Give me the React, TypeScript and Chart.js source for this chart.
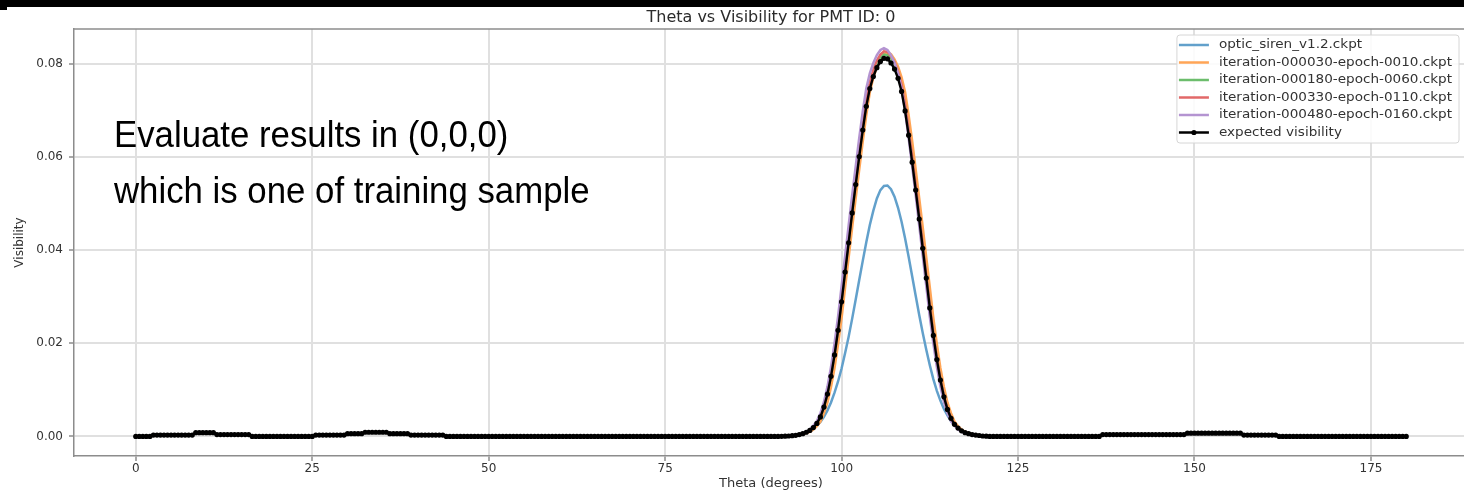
import React, { useEffect, useRef } from "react";
import { Chart, registerables } from "chart.js";

Chart.register(...registerables);

// ---------------- data ----------------
const CHART_TITLE = "Theta vs Visibility for PMT ID: 0";
const X_TITLE = "Theta (degrees)";
const Y_TITLE = "Visibility";
const NOTE_LINES = ["Evaluate results in (0,0,0)", "which is one of training sample"];

const X_TICKS = [0, 25, 50, 75, 100, 125, 150, 175];
const Y_TICKS = [0, 0.02, 0.04, 0.06, 0.08];

const THETA = [
  0, 0.5, 1, 1.5, 2, 2.5, 3, 3.5, 4, 4.5, 5, 5.5, 6, 6.5, 7, 7.5, 8, 8.5, 9, 9.5,
  10, 10.5, 11, 11.5, 12, 12.5, 13, 13.5, 14, 14.5, 15, 15.5, 16, 16.5, 17, 17.5, 18, 18.5, 19, 19.5,
  20, 20.5, 21, 21.5, 22, 22.5, 23, 23.5, 24, 24.5, 25, 25.5, 26, 26.5, 27, 27.5, 28, 28.5, 29, 29.5,
  30, 30.5, 31, 31.5, 32, 32.5, 33, 33.5, 34, 34.5, 35, 35.5, 36, 36.5, 37, 37.5, 38, 38.5, 39, 39.5,
  40, 40.5, 41, 41.5, 42, 42.5, 43, 43.5, 44, 44.5, 45, 45.5, 46, 46.5, 47, 47.5, 48, 48.5, 49, 49.5,
  50, 50.5, 51, 51.5, 52, 52.5, 53, 53.5, 54, 54.5, 55, 55.5, 56, 56.5, 57, 57.5, 58, 58.5, 59, 59.5,
  60, 60.5, 61, 61.5, 62, 62.5, 63, 63.5, 64, 64.5, 65, 65.5, 66, 66.5, 67, 67.5, 68, 68.5, 69, 69.5,
  70, 70.5, 71, 71.5, 72, 72.5, 73, 73.5, 74, 74.5, 75, 75.5, 76, 76.5, 77, 77.5, 78, 78.5, 79, 79.5,
  80, 80.5, 81, 81.5, 82, 82.5, 83, 83.5, 84, 84.5, 85, 85.5, 86, 86.5, 87, 87.5, 88, 88.5, 89, 89.5,
  90, 90.5, 91, 91.5, 92, 92.5, 93, 93.5, 94, 94.5, 95, 95.5, 96, 96.5, 97, 97.5, 98, 98.5, 99, 99.5,
  100, 100.5, 101, 101.5, 102, 102.5, 103, 103.5, 104, 104.5, 105, 105.5, 106, 106.5, 107, 107.5, 108, 108.5, 109, 109.5,
  110, 110.5, 111, 111.5, 112, 112.5, 113, 113.5, 114, 114.5, 115, 115.5, 116, 116.5, 117, 117.5, 118, 118.5, 119, 119.5,
  120, 120.5, 121, 121.5, 122, 122.5, 123, 123.5, 124, 124.5, 125, 125.5, 126, 126.5, 127, 127.5, 128, 128.5, 129, 129.5,
  130, 130.5, 131, 131.5, 132, 132.5, 133, 133.5, 134, 134.5, 135, 135.5, 136, 136.5, 137, 137.5, 138, 138.5, 139, 139.5,
  140, 140.5, 141, 141.5, 142, 142.5, 143, 143.5, 144, 144.5, 145, 145.5, 146, 146.5, 147, 147.5, 148, 148.5, 149, 149.5,
  150, 150.5, 151, 151.5, 152, 152.5, 153, 153.5, 154, 154.5, 155, 155.5, 156, 156.5, 157, 157.5, 158, 158.5, 159, 159.5,
  160, 160.5, 161, 161.5, 162, 162.5, 163, 163.5, 164, 164.5, 165, 165.5, 166, 166.5, 167, 167.5, 168, 168.5, 169, 169.5,
  170, 170.5, 171, 171.5, 172, 172.5, 173, 173.5, 174, 174.5, 175, 175.5, 176, 176.5, 177, 177.5, 178, 178.5, 179, 179.5,
  180,
];

// theta 0 .. 89.5 (flat part, shared by every curve)
const FLAT_LEFT = [
  0, 0, 0, 0, 0, 0.0003, 0.0003, 0.0003, 0.0003, 0.0003, 0.0003, 0.0003, 0.0003, 0.0003, 0.0003, 0.0003, 0.0003, 0.0008, 0.0008, 0.0008,
  0.0008, 0.0008, 0.0008, 0.0004, 0.0004, 0.0004, 0.0004, 0.0004, 0.0004, 0.0004, 0.0004, 0.0004, 0.0004, 0, 0, 0, 0, 0, 0, 0,
  0, 0, 0, 0, 0, 0, 0, 0, 0, 0, 0, 0.0003, 0.0003, 0.0003, 0.0003, 0.0003, 0.0003, 0.0003, 0.0003, 0.0003,
  0.0006, 0.0006, 0.0006, 0.0006, 0.0006, 0.0009, 0.0009, 0.0009, 0.0009, 0.0009, 0.0009, 0.0009, 0.0006, 0.0006, 0.0006, 0.0006, 0.0006, 0.0006, 0.0003, 0.0003,
  0.0003, 0.0003, 0.0003, 0.0003, 0.0003, 0.0003, 0.0003, 0.0003, 0, 0, 0, 0, 0, 0, 0, 0, 0, 0, 0, 0,
  0, 0, 0, 0, 0, 0, 0, 0, 0, 0, 0, 0, 0, 0, 0, 0, 0, 0, 0, 0,
  0, 0, 0, 0, 0, 0, 0, 0, 0, 0, 0, 0, 0, 0, 0, 0, 0, 0, 0, 0,
  0, 0, 0, 0, 0, 0, 0, 0, 0, 0, 0, 0, 0, 0, 0, 0, 0, 0, 0, 0,
  0, 0, 0, 0, 0, 0, 0, 0, 0, 0, 0, 0, 0, 0, 0, 0, 0, 0, 0, 0,
];

// theta 122 .. 180 (flat part, shared by every curve)
const FLAT_RIGHT = [
  0, 0, 0, 0, 0, 0, 0, 0, 0, 0, 0, 0, 0, 0, 0, 0,
  0, 0, 0, 0, 0, 0, 0, 0, 0, 0, 0, 0, 0, 0, 0.0004, 0.0004, 0.0004, 0.0004, 0.0004, 0.0004,
  0.0004, 0.0004, 0.0004, 0.0004, 0.0004, 0.0004, 0.0004, 0.0004, 0.0004, 0.0004, 0.0004, 0.0004, 0.0004, 0.0004, 0.0004, 0.0004, 0.0004, 0.0004, 0.0007, 0.0007,
  0.0007, 0.0007, 0.0007, 0.0007, 0.0007, 0.0007, 0.0007, 0.0007, 0.0007, 0.0007, 0.0007, 0.0007, 0.0007, 0.0007, 0.0003, 0.0003, 0.0003, 0.0003, 0.0003, 0.0003,
  0.0003, 0.0003, 0.0003, 0.0003, 0, 0, 0, 0, 0, 0, 0, 0, 0, 0, 0, 0, 0, 0, 0, 0,
  0, 0, 0, 0, 0, 0, 0, 0, 0, 0, 0, 0, 0, 0, 0, 0, 0, 0, 0, 0,
  0,
];

// theta 90 .. 121.5 (the peak), one array per curve
const PEAK_OPTIC_SIREN = [
  0, 0, 0, 0, 0.0001, 0.0001, 0.0002, 0.0002, 0.0004, 0.0006,
  0.0008, 0.0012, 0.0017, 0.0023, 0.0031, 0.0042, 0.0056, 0.0073, 0.0094, 0.0118,
  0.0146, 0.0179, 0.0214, 0.0253, 0.0294, 0.0336, 0.0377, 0.0417, 0.0454, 0.0485,
  0.0511, 0.0529, 0.0538, 0.0539, 0.0531, 0.0515, 0.0491, 0.0461, 0.0425, 0.0386,
  0.0344, 0.0302, 0.0261, 0.0222, 0.0186, 0.0153, 0.0123, 0.0098, 0.0077, 0.0059,
  0.0045, 0.0033, 0.0024, 0.0018, 0.0013, 0.0009, 0.0006, 0.0004, 0.0003, 0.0002,
  0.0001, 0.0001, 0, 0,
];
const PEAK_EPOCH_0010 = [
  0, 0, 0, 0, 0, 0.00005, 0.0001, 0.0002, 0.0003, 0.0005,
  0.0007, 0.001, 0.0015, 0.0022, 0.0032, 0.005, 0.0073, 0.0106, 0.0147, 0.0198,
  0.0254, 0.032, 0.0384, 0.0449, 0.0512, 0.0573, 0.0634, 0.069, 0.0739, 0.0771,
  0.0794, 0.081, 0.0821, 0.0825, 0.0821, 0.081, 0.0794, 0.0771, 0.0739, 0.069,
  0.0634, 0.0573, 0.0512, 0.0449, 0.0384, 0.032, 0.0254, 0.0198, 0.0147, 0.0106,
  0.0073, 0.005, 0.0032, 0.0022, 0.0015, 0.001, 0.0007, 0.0005, 0.0003, 0.0002,
  0.0001, 0.00005, 0, 0,
];
const PEAK_EPOCH_0060 = [
  0, 0, 0, 0.00003, 0.00005, 0.0001, 0.00016, 0.00025, 0.0004, 0.0006,
  0.0009, 0.0013, 0.0019, 0.0028, 0.0042, 0.0064, 0.0092, 0.013, 0.0177, 0.023,
  0.0292, 0.0356, 0.042, 0.0485, 0.0546, 0.0607, 0.0664, 0.0716, 0.0754, 0.0781,
  0.08, 0.0813, 0.082, 0.0819, 0.081, 0.0797, 0.0777, 0.0748, 0.0706, 0.0653,
  0.0595, 0.0534, 0.0472, 0.0408, 0.0343, 0.0279, 0.0219, 0.0167, 0.0122, 0.0086,
  0.0059, 0.0039, 0.0026, 0.0018, 0.0012, 0.0008, 0.0006, 0.0004, 0.0003, 0.0002,
  0.0001, 0.00005, 0, 0,
];
const PEAK_EPOCH_0110 = [
  0, 0, 0, 0.00003, 0.00005, 0.0001, 0.00016, 0.00025, 0.0004, 0.0006,
  0.0009, 0.0013, 0.0019, 0.0029, 0.0043, 0.0064, 0.0093, 0.0131, 0.0178, 0.0232,
  0.0294, 0.036, 0.0424, 0.0489, 0.0551, 0.0612, 0.067, 0.0722, 0.0761, 0.0787,
  0.0807, 0.082, 0.0827, 0.0826, 0.0817, 0.0804, 0.0783, 0.0755, 0.0712, 0.0659,
  0.06, 0.0539, 0.0476, 0.0411, 0.0346, 0.0281, 0.0221, 0.0168, 0.0123, 0.0087,
  0.0059, 0.004, 0.0026, 0.0018, 0.0012, 0.0008, 0.0006, 0.0004, 0.0003, 0.0002,
  0.0001, 0.00005, 0, 0,
];
const PEAK_EPOCH_0160 = [
  0, 0, 0, 0, 0.00005, 0.0001, 0.0002, 0.0003, 0.0005, 0.0007,
  0.001, 0.0015, 0.0023, 0.0033, 0.005, 0.0074, 0.0107, 0.0149, 0.02, 0.0257,
  0.0323, 0.0388, 0.0453, 0.0518, 0.058, 0.0641, 0.0698, 0.0747, 0.078, 0.0802,
  0.0819, 0.083, 0.0834, 0.083, 0.0819, 0.0802, 0.078, 0.0747, 0.0698, 0.0641,
  0.058, 0.0518, 0.0453, 0.0388, 0.0323, 0.0257, 0.02, 0.0149, 0.0107, 0.0074,
  0.005, 0.0033, 0.0023, 0.0015, 0.001, 0.0007, 0.0005, 0.0003, 0.0002, 0.0001,
  0.00005, 0, 0, 0,
];
const PEAK_EXPECTED = [
  0, 0, 0, 0.00003, 0.00005, 0.0001, 0.00016, 0.00025, 0.0004, 0.0006,
  0.0009, 0.0013, 0.0019, 0.0028, 0.0042, 0.0063, 0.0091, 0.0129, 0.0175, 0.0228,
  0.0289, 0.0353, 0.0416, 0.048, 0.0541, 0.0601, 0.0658, 0.0709, 0.0747, 0.0773,
  0.0792, 0.0805, 0.0812, 0.0811, 0.0802, 0.0789, 0.0769, 0.0741, 0.0699, 0.0647,
  0.0589, 0.0529, 0.0467, 0.0404, 0.034, 0.0276, 0.0217, 0.0165, 0.0121, 0.0085,
  0.0058, 0.0039, 0.0026, 0.0018, 0.0012, 0.0008, 0.0006, 0.0004, 0.0003, 0.0002,
  0.0001, 0.00005, 0, 0,
];

const SERIES_LABELS = [
  "optic_siren_v1.2.ckpt",
  "iteration-000030-epoch-0010.ckpt",
  "iteration-000180-epoch-0060.ckpt",
  "iteration-000330-epoch-0110.ckpt",
  "iteration-000480-epoch-0160.ckpt",
  "expected visibility",
];
const SERIES_PEAKS = [
  PEAK_OPTIC_SIREN,
  PEAK_EPOCH_0010,
  PEAK_EPOCH_0060,
  PEAK_EPOCH_0110,
  PEAK_EPOCH_0160,
  PEAK_EXPECTED,
];
const SERIES_COLORS = ["#62a0cb", "#ffa556", "#6cbd6c", "#e26868", "#b494d1", "#000000"];

// ---------------- styling ----------------
const CANVAS_W = 1542;
const CANVAS_H = 492;
const AXIS_COLOR = "#8c8c8c";
const GRID_COLOR = "#e0e0e0";
const TEXT_COLOR = "#333333";
const FONT = "DejaVu Sans";

const backdropPlugin = {
  id: "backdrop",
  beforeDraw(chart: any) {
    const { ctx, width, height } = chart;
    ctx.save();
    ctx.fillStyle = "#ffffff";
    ctx.fillRect(0, 0, width, height);
    ctx.fillStyle = "#000000";
    ctx.fillRect(0, 0, width, 7);
    ctx.fillRect(0, 7, 7, 3);
    ctx.restore();
  },
};

const framePlugin = {
  id: "frame",
  afterDatasetsDraw(chart: any) {
    const { ctx, chartArea } = chart;
    ctx.save();
    ctx.strokeStyle = AXIS_COLOR;
    ctx.lineWidth = 1.5;
    ctx.beginPath();
    ctx.moveTo(chartArea.left, chartArea.top);
    ctx.lineTo(chartArea.right, chartArea.top);
    ctx.stroke();
    ctx.restore();
  },
};

const boxLegendPlugin = {
  id: "boxLegend",
  afterDraw(chart: any) {
    const { ctx, chartArea } = chart;
    const datasets = chart.data.datasets;
    const fontSize = 12;
    const sx = 1.13;
    ctx.save();
    ctx.font = `${fontSize}px "${FONT}"`;
    let maxW = 0;
    datasets.forEach((ds: any) => {
      maxW = Math.max(maxW, ctx.measureText(ds.label).width * sx);
    });
    const w = 42 + maxW + 7;
    const h = 108;
    const right = chartArea.right - 9;
    const left = right - w;
    const top = chartArea.top + 6;
    ctx.beginPath();
    if (typeof ctx.roundRect === "function") ctx.roundRect(left, top, w, h, 3);
    else ctx.rect(left, top, w, h);
    ctx.fillStyle = "rgba(255,255,255,0.85)";
    ctx.fill();
    ctx.strokeStyle = "#d6d6d6";
    ctx.lineWidth = 1;
    ctx.stroke();
    datasets.forEach((ds: any, i: number) => {
      const y = top + 10 + i * 17.5;
      ctx.strokeStyle = ds.borderColor;
      ctx.lineWidth = 2.5;
      ctx.beginPath();
      ctx.moveTo(left + 2, y);
      ctx.lineTo(left + 32, y);
      ctx.stroke();
      if (ds.pointRadius > 0) {
        ctx.fillStyle = ds.borderColor;
        ctx.beginPath();
        ctx.arc(left + 17, y, 2.6, 0, Math.PI * 2);
        ctx.fill();
      }
      ctx.save();
      ctx.translate(left + 42, y);
      ctx.scale(sx, 1);
      ctx.fillStyle = TEXT_COLOR;
      ctx.textBaseline = "middle";
      ctx.textAlign = "left";
      ctx.fillText(ds.label, 0, 0);
      ctx.restore();
    });
    ctx.restore();
  },
};

export default function App() {
  const canvasRef = useRef<HTMLCanvasElement | null>(null);

  useEffect(() => {
    if (!canvasRef.current) return;
    const datasets = SERIES_LABELS.map((label, i) => {
      const values = [...FLAT_LEFT, ...SERIES_PEAKS[i], ...FLAT_RIGHT];
      const isExpected = i === SERIES_LABELS.length - 1;
      return {
        label,
        data: THETA.map((t, j) => ({ x: t, y: values[j] })),
        borderColor: SERIES_COLORS[i],
        backgroundColor: SERIES_COLORS[i],
        borderWidth: isExpected ? 2.4 : 2.5,
        pointRadius: isExpected ? 2.6 : 0,
        pointHoverRadius: 0,
        pointBorderWidth: 0,
        pointBackgroundColor: SERIES_COLORS[i],
        tension: 0,
        fill: false,
        yAxisID: "y",
        order: SERIES_LABELS.length - 1 - i,
      };
    });

    const chart = new Chart(canvasRef.current, {
      type: "line",
      data: { datasets },
      options: {
        animation: false,
        responsive: false,
        maintainAspectRatio: false,
        events: [],
        layout: { padding: { left: 0, right: 0, top: 0, bottom: 0 } },
        plugins: {
          legend: { display: false },
          tooltip: { enabled: false },
          title: {
            display: true,
            text: CHART_TITLE,
            color: "#2a2a2a",
            font: { family: FONT, size: 16, weight: "normal", lineHeight: 1.2 },
            padding: { top: 7.8, bottom: 2 },
          },
        },
        scales: {
          x: {
            type: "linear",
            min: -8.75,
            max: 188.75,
            afterBuildTicks: (scale: any) => {
              scale.ticks = X_TICKS.map((v) => ({ value: v }));
            },
            afterFit: (scale: any) => {
              scale.height = 36;
            },
            ticks: {
              autoSkip: false,
              maxRotation: 0,
              padding: 1,
              color: TEXT_COLOR,
              font: { family: FONT, size: 12 },
              callback: (v: any) => String(v),
            },
            grid: {
              color: GRID_COLOR,
              lineWidth: 2,
              tickColor: AXIS_COLOR,
              tickWidth: 1.5,
              tickLength: 5,
            },
            border: { display: true, color: AXIS_COLOR, width: 1.5 },
            title: {
              display: true,
              text: X_TITLE,
              color: TEXT_COLOR,
              font: { family: FONT, size: 13 },
              padding: { top: 0, bottom: 0.2 },
            },
          },
          y: {
            type: "linear",
            position: "left",
            min: -0.0042,
            max: 0.0875,
            afterBuildTicks: (scale: any) => {
              scale.ticks = Y_TICKS.map((v) => ({ value: v }));
            },
            afterFit: (scale: any) => {
              scale.width = 74;
            },
            ticks: {
              padding: 6,
              color: TEXT_COLOR,
              font: { family: FONT, size: 12 },
              callback: (v: any) => Number(v).toFixed(2),
            },
            grid: {
              color: GRID_COLOR,
              lineWidth: 2,
              tickColor: AXIS_COLOR,
              tickWidth: 1.5,
              tickLength: 5,
            },
            border: { display: true, color: AXIS_COLOR, width: 1.5 },
            title: {
              display: true,
              text: Y_TITLE,
              color: TEXT_COLOR,
              font: { family: FONT, size: 12 },
              padding: { top: 12.8, bottom: 0 },
            },
          },
          // empty spacer on the right so the plot runs past the picture edge
          yRight: {
            type: "linear",
            position: "right",
            min: 0,
            max: 1,
            afterFit: (scale: any) => {
              scale.width = 74;
            },
            ticks: { display: false },
            grid: { display: false, drawTicks: false },
            border: { display: false },
          },
        },
      },
      plugins: [backdropPlugin, framePlugin, boxLegendPlugin],
    } as any);

    return () => chart.destroy();
  }, []);

  return (
    <div
      style={{
        position: "fixed",
        left: 0,
        top: 0,
        width: 1464,
        height: 492,
        overflow: "hidden",
        background: "#ffffff",
      }}
    >
      <canvas
        ref={canvasRef}
        width={CANVAS_W}
        height={CANVAS_H}
        style={{ display: "block", width: CANVAS_W, height: CANVAS_H }}
      />
      <div
        style={{
          position: "absolute",
          left: 114.3,
          top: 106.5,
          fontFamily: '"Liberation Sans", Arial, sans-serif',
          fontSize: 37,
          lineHeight: "56px",
          color: "#000000",
          whiteSpace: "pre",
          transform: "scaleX(0.94)",
          transformOrigin: "0 0",
        }}
      >
        {NOTE_LINES.join("\n")}
      </div>
    </div>
  );
}
